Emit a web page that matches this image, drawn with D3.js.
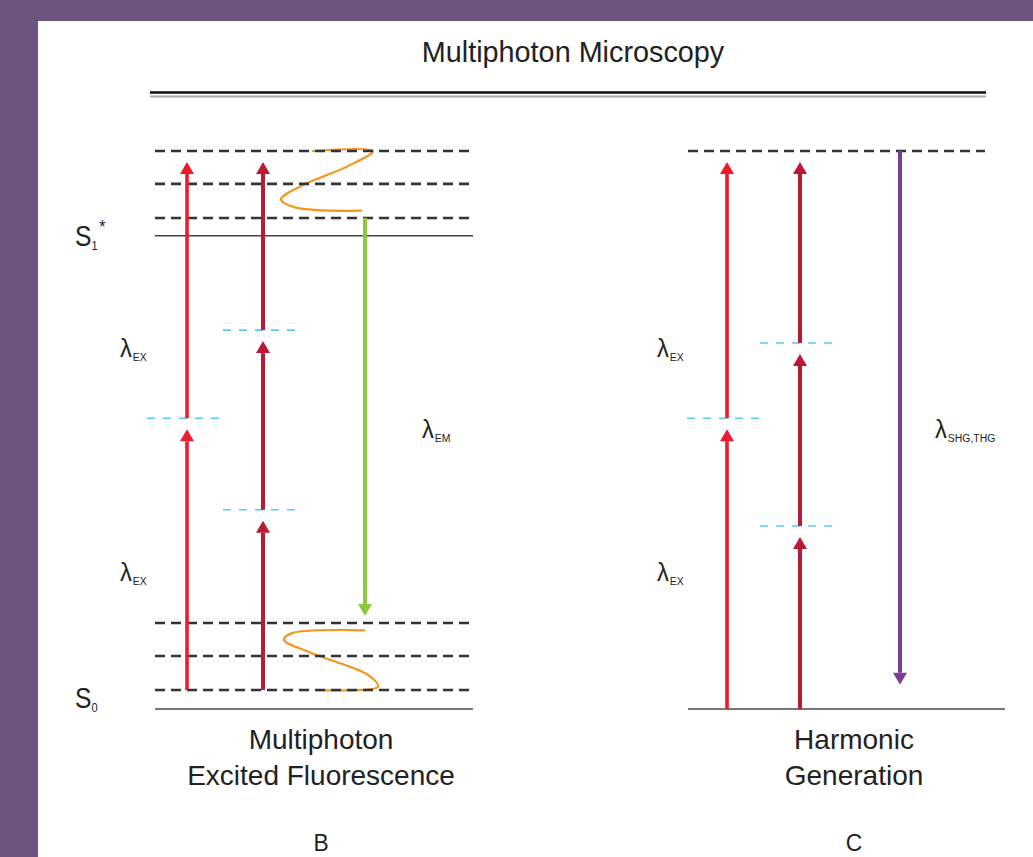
<!DOCTYPE html>
<html><head><meta charset="utf-8">
<script src="https://cdn.jsdelivr.net/npm/d3@7"></script>
<style>
html,body{margin:0;padding:0;background:#6b5580;}
svg{display:block;}
text{font-family:"Liberation Sans","Arial",sans-serif;fill:#222;}
</style></head>
<body>
<script>
// ---- data (energy units: S0 = 0, top level = 10) ----
const title = "Multiphoton Microscopy";
const panels = ["B", "C"];
const panelTitles = [["Multiphoton", "Excited Fluorescence"], ["Harmonic", "Generation"]];
// column x offsets inside each panel (photon column 0, 1, emission column 2)
const columnOffsets = {B:[0, 76, 178], C:[0, 73, 173]};
// dashed vibrational levels
const dashedLevels = [
  {panel:"B", e:10}, {panel:"B", e:9.41}, {panel:"B", e:8.8},
  {panel:"B", e:1.54}, {panel:"B", e:0.95}, {panel:"B", e:0.34},
  {panel:"C", e:10}
];
// solid electronic levels
const solidLevels = [{panel:"B", e:8.48, name:"S1"}, {panel:"B", e:0, name:"S0"}, {panel:"C", e:0, name:""}];
// virtual states (cyan dashes)
const virtualLevels = [
  {panel:"B", col:0, e:5.21}, {panel:"B", col:1, e:3.57}, {panel:"B", col:1, e:6.79},
  {panel:"C", col:0, e:5.21}, {panel:"C", col:1, e:3.28}, {panel:"C", col:1, e:6.56}
];
// photon transitions
const arrows = [
  {panel:"B", col:0, from:0.34, to:5.21, kind:"ex"},
  {panel:"B", col:0, from:5.21, to:10, kind:"ex"},
  {panel:"B", col:1, from:0.34, to:3.57, kind:"ex3"},
  {panel:"B", col:1, from:3.57, to:6.79, kind:"ex3"},
  {panel:"B", col:1, from:6.79, to:10, kind:"ex3"},
  {panel:"B", col:2, from:8.8, to:1.54, kind:"em"},
  {panel:"C", col:0, from:0, to:5.21, kind:"ex"},
  {panel:"C", col:0, from:5.21, to:10, kind:"ex"},
  {panel:"C", col:1, from:0, to:3.28, kind:"ex3"},
  {panel:"C", col:1, from:3.28, to:6.56, kind:"ex3"},
  {panel:"C", col:1, from:6.56, to:10, kind:"ex3"},
  {panel:"C", col:2, from:10, to:0.22, kind:"harm"}
];
// vibrational relaxation waves (x offset in panel B, energy)
const waveTop = [[125,10],[186,10],[160,9.72],[115,9.38],[94,9.13],[108,8.99],[175,8.93]];
const waveBottom = [[178,1.41],[105,1.36],[97,1.24],[125,1.0],[182,0.6],[191,0.4],[128,0.34]];
// labels
const levelLabels = [{panel:"B", e:8.3, main:"S", sub:"1", sup:"*"}, {panel:"B", e:0.02, main:"S", sub:"0", sup:""}];
const lambdaLabels = [
  {panel:"B", e:6.3, dx:-67, sub:"EX"}, {panel:"B", e:2.3, dx:-67, sub:"EX"},
  {panel:"B", e:4.85, dx:235, sub:"EM"},
  {panel:"C", e:6.3, dx:-70, sub:"EX"}, {panel:"C", e:2.3, dx:-70, sub:"EX"},
  {panel:"C", e:4.85, dx:208, sub:"SHG,THG"}
];

const colors = {ex:"#ec1c2c", ex3:"#b81b33", em:"#8dc63f", harm:"#7e3c98", wave:"#f7941d", virt:"#5ccbf2", dash:"#333"};

// ---- layout ----
const W = 1033, H = 857;
const svg = d3.select("body").append("svg").attr("width", W).attr("height", H);
svg.append("rect").attr("x",38).attr("y",21).attr("width",W-38).attr("height",H-21).attr("fill","#fff");

const y = d3.scaleLinear().domain([0,10]).range([709,151]);
const panelX = d3.scaleOrdinal().domain(panels).range([187, 727]);
const cx = (p, c) => panelX(p) + columnOffsets[p][c];
const levelExtent = {B:[155,473], C:[688,985]};
const solidExtent = {B:[155,473], C:[688,1005]};

function label(x, yy, size, sx, anchor) {
  return svg.append("text").attr("transform", `translate(${x},${yy}) scale(${sx},1)`)
    .attr("text-anchor", anchor || "start").style("font-size", size + "px");
}

// title
label(573, 62, 30, 0.96, "middle").text(title);
svg.append("line").attr("x1",150).attr("x2",986).attr("y1",92.5).attr("y2",92.5).attr("stroke","#111").attr("stroke-width",2.5);
svg.append("line").attr("x1",150).attr("x2",986).attr("y1",96.5).attr("y2",96.5).attr("stroke","#aaa").attr("stroke-width",2);

// waves (drawn below dashes)
const waveLine = d3.line().x(d => panelX("B") + d[0]).y(d => y(d[1])).curve(d3.curveCatmullRom.alpha(0.5));
[waveTop, waveBottom].forEach(w => {
  svg.append("path").attr("d", waveLine(w)).attr("fill","none").attr("stroke",colors.wave).attr("stroke-width",2.2);
});

// dashed levels
svg.selectAll(".dl").data(dashedLevels).join("line")
  .attr("x1", d => levelExtent[d.panel][0]).attr("x2", d => levelExtent[d.panel][1])
  .attr("y1", d => y(d.e)).attr("y2", d => y(d.e))
  .attr("stroke", colors.dash).attr("stroke-width", 2.6).attr("stroke-dasharray","10,6");

// solid levels
svg.selectAll(".sl").data(solidLevels).join("line")
  .attr("x1", d => solidExtent[d.panel][0]).attr("x2", d => solidExtent[d.panel][1])
  .attr("y1", d => y(d.e)).attr("y2", d => y(d.e))
  .attr("stroke", d => d.name==="S1" ? "#444" : "#777").attr("stroke-width", d => d.name==="S1"?1.4:2);

// virtual levels
svg.selectAll(".vl").data(virtualLevels).join("line")
  .attr("x1", d => cx(d.panel,d.col) - 40).attr("x2", d => cx(d.panel,d.col) + 39)
  .attr("y1", d => y(d.e)).attr("y2", d => y(d.e))
  .attr("stroke", colors.virt).attr("stroke-width", 1.6).attr("stroke-dasharray","8,8");

// arrows
const headL = 12, headW = 7, gap = 11;
arrows.forEach(a => {
  const x = cx(a.panel, a.col);
  const y0 = y(a.from), y1 = y(a.to);
  const dir = y1 < y0 ? -1 : 1;  // -1 upward
  const tip = y1 - dir * (a.kind==="em" ? 7 : (a.kind==="harm" ? 12 : gap));
  const base = tip - dir * headL;
  const c = colors[a.kind];
  const w = a.kind==="ex" ? 3.6 : 4;
  svg.append("line").attr("x1",x).attr("x2",x).attr("y1",y0).attr("y2",base)
    .attr("stroke",c).attr("stroke-width",w);
  svg.append("path").attr("d", `M${x},${tip}L${x-headW},${base}L${x+headW},${base}Z`).attr("fill",c);
});

// level labels
levelLabels.forEach(l => {
  const t = label(75, y(l.e), 29, 0.85);
  t.append("tspan").text(l.main);
  t.append("tspan").attr("dy",4).style("font-size","13px").text(l.sub);
  if (l.sup) t.append("tspan").attr("dy",-17).attr("dx",2).style("font-size","19px").text(l.sup);
});

// lambda labels
lambdaLabels.forEach(l => {
  const t = label(panelX(l.panel) + l.dx, y(l.e), 25, 0.95);
  t.append("tspan").text("λ");
  t.append("tspan").attr("dy",4).attr("dx",1).style("font-size","11px").text(l.sub);
});

// panel titles and letters
panels.forEach((p,i) => {
  const mx = i===0 ? 321 : 854;
  panelTitles[i].forEach((s,j) => {
    label(mx, 749 + j*36, 28, 1.0, "middle").text(s);
  });
  label(mx, 851, 24, 0.95, "middle").text(p);
});
</script>
</body></html>
